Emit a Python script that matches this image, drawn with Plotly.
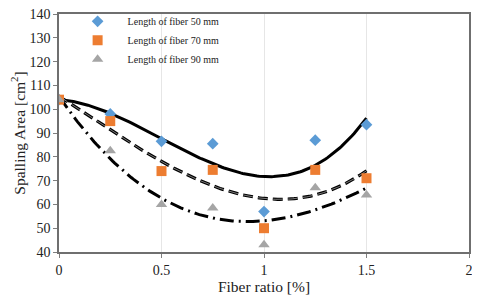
import numpy as np
import plotly.graph_objects as go

fiber_ratio = [0, 0.25, 0.5, 0.75, 1.0, 1.25, 1.5]
area_50mm = [104, 98, 86.5, 85.5, 57, 87, 93.5]
area_70mm = [104, 95, 74, 74.5, 50, 74.5, 71]
area_90mm = [104, 82.5, 60, 58.5, 43, 67, 64]
series_names = ["Length of fiber 50 mm", "Length of fiber 70 mm", "Length of fiber 90 mm"]
x_ticks = [0, 0.5, 1, 1.5, 2]
y_ticks = [40, 50, 60, 70, 80, 90, 100, 110, 120, 130, 140]

serif = "Liberation Serif"
fig = go.Figure()

xs = np.linspace(min(fiber_ratio), max(fiber_ratio), 150)

def trend(y):
    c = np.polyfit(fiber_ratio, y, 3)
    return np.polyval(c, xs)

# polynomial trendlines
fig.add_trace(go.Scatter(x=xs, y=trend(area_50mm), mode="lines", showlegend=False,
                         line=dict(color="black", width=3), hoverinfo="skip"))
fig.add_trace(go.Scatter(x=xs, y=trend(area_70mm), mode="lines", showlegend=False,
                         line=dict(color="black", width=3.2, dash="10px,5px"), hoverinfo="skip"))
fig.add_trace(go.Scatter(x=xs, y=trend(area_70mm), mode="lines", showlegend=False,
                         line=dict(color="#9a9a9a", width=0.8, dash="10px,5px"), hoverinfo="skip"))
fig.add_trace(go.Scatter(x=xs, y=trend(area_90mm), mode="lines", showlegend=False,
                         line=dict(color="black", width=3, dash="14px,5px,2px,5px"), hoverinfo="skip"))

styles = [("diamond", "#5B9BD5", 9), ("square", "#ED7D31", 10), ("triangle-up", "#A5A5A5", 10)]
for name, ys, (sym, col, sz) in zip(series_names, [area_50mm, area_70mm, area_90mm], styles):
    fig.add_trace(go.Scatter(x=fiber_ratio, y=ys, mode="markers", name=name,
                             marker=dict(symbol=sym, color=col, size=sz, line=dict(width=0))))

fig.update_layout(
    width=472, height=287,
    margin=dict(l=51, r=11, t=6, b=43, autoexpand=False),
    paper_bgcolor="white", plot_bgcolor="white",
    font=dict(family=serif, color="#222"),
    legend=dict(x=0.021, y=1.03, xanchor="left", yanchor="top", bgcolor="rgba(0,0,0,0)",
                font=dict(family=serif, size=10, color="#222"), itemwidth=50,
                tracegroupgap=0),
)
fig.update_xaxes(range=[0, 2], tickvals=x_ticks, ticktext=[str(v) for v in x_ticks],
                 showgrid=True, gridcolor="#e6e6e6", gridwidth=1, zeroline=False,
                 showline=True, linecolor="#6f6f6f", linewidth=1.5, mirror=True,
                 ticks="outside", ticklen=4, tickcolor="#7f7f7f", ticklabeloverflow="allow",
                 tickfont=dict(size=14, family=serif, color="#222"),
                 title=dict(text="Fiber ratio [%]", font=dict(size=15.5, family=serif, color="#222"), standoff=0))
fig.update_yaxes(range=[40, 140], tickvals=y_ticks,
                 showgrid=False, zeroline=False,
                 showline=True, linecolor="#6f6f6f", linewidth=1.5, mirror=True,
                 ticks="outside", ticklen=4, tickcolor="#7f7f7f", ticklabeloverflow="allow",
                 tickfont=dict(size=14, family=serif, color="#222"),
                 title=dict(text="Spalling Area [cm<sup>2</sup>]", font=dict(size=15.5, family=serif, color="#222"), standoff=4))

fig.write_html("out.html")
